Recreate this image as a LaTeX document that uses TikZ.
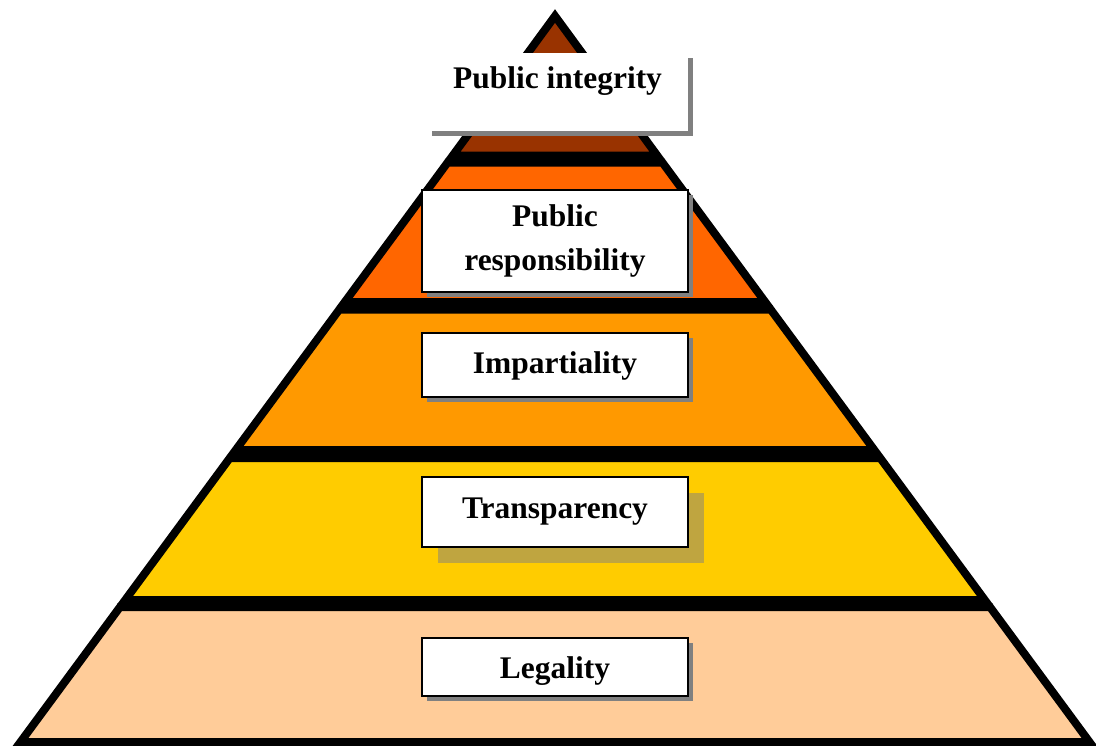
\documentclass[tikz,border=0pt]{standalone}
\usepackage{fontspec}
\setmainfont{Liberation Serif}
\usetikzlibrary{shadows}

\definecolor{tier1}{HTML}{993300}
\definecolor{tier2}{HTML}{FF6600}
\definecolor{tier3}{HTML}{FF9900}
\definecolor{tier4}{HTML}{FFCC00}
\definecolor{tier5}{HTML}{FFCC99}
\definecolor{shade}{HTML}{808080}

\begin{document}
\begin{tikzpicture}[x=0.75pt,y=-0.75pt]
\tikzstyle{every node}+=[inner sep=0pt, font=\fontsize{23.6pt}{32.3pt}\selectfont\bfseries]
\tikzstyle{tier}=[draw=black, line width=6pt, line join=miter]
\tikzstyle{label box}=[draw=black, line width=1.1pt, fill=white, minimum width=199.5pt]
\tikzstyle{small shadow}=[drop shadow={shadow xshift=3.75pt, shadow yshift=-3.75pt, fill=shade, opacity=1}]
\useasboundingbox (0,0) rectangle (1096,746);
% pyramid tiers
\draw [tier, fill=tier1] (555,16) -- (657.2,155.5) -- (452.8,155.5) -- cycle;
\draw [tier, fill=tier2] (447.6,162.5) -- (662.4,162.5) -- (765.2,302) -- (344.8,302) -- cycle;
\draw [tier, fill=tier3] (339.3,309.5) -- (770.7,309.5) -- (874.3,450) -- (235.7,450) -- cycle;
\draw [tier, fill=tier4] (229.8,458) -- (880.2,458) -- (984.8,600) -- (125.2,600) -- cycle;
\draw [tier, fill=tier5] (120,607) -- (990,607) -- (1089.5,742) -- (20.5,742) -- cycle;
% labels
\node [fill=white, minimum width=195.75pt, text height=26.25pt, text depth=32.25pt, small shadow]
  (integrity) at (557.5,92) {Public integrity};
\node [label box, small shadow, minimum height=76.5pt, align=center] (responsibility) at (555,241)
  {Public\\responsibility};
\node [label box, small shadow, text height=30pt, text depth=18pt] (impartiality) at (555,365) {Impartiality};
\node [label box, text height=30.75pt, text depth=21.75pt,
  drop shadow={shadow xshift=12pt, shadow yshift=-12pt, fill=shade, opacity=0.5}]
  (transparency) at (555,512) {Transparency};
\node [label box, small shadow, text height=30pt, text depth=13.5pt] (legality) at (555,667) {Legality};
\end{tikzpicture}
\end{document}
